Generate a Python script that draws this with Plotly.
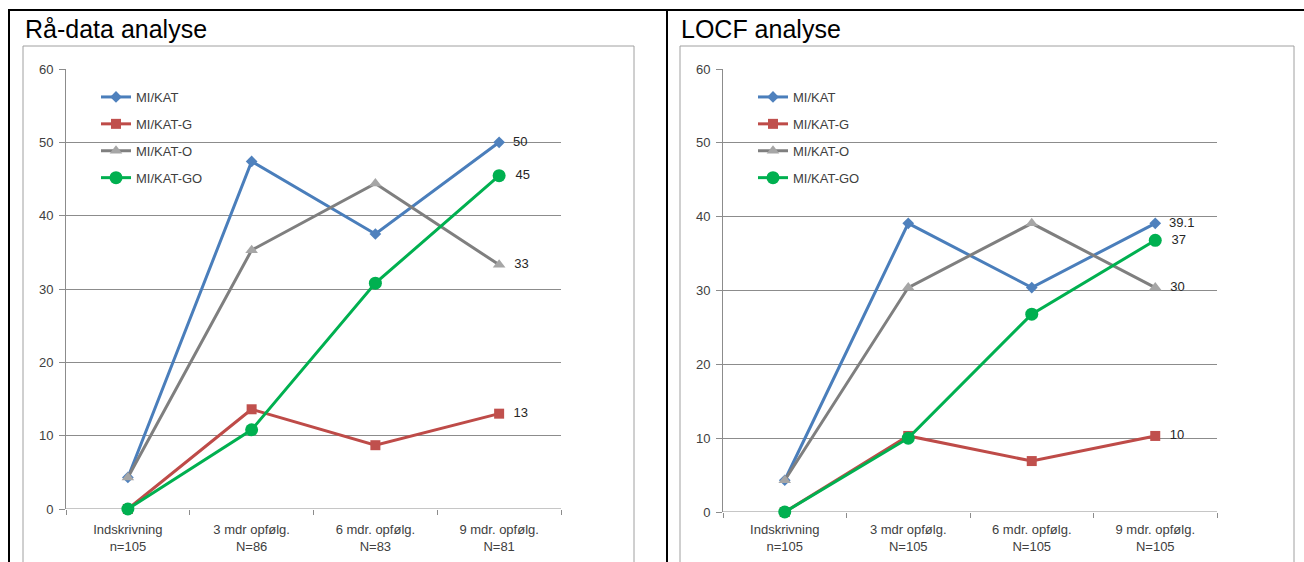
import plotly.graph_objects as go

# ---- data -------------------------------------------------------------
categories = [
    "Indskrivning<br>n=105",
    "3 mdr opfølg.<br>N=86",
    "6 mdr. opfølg.<br>N=83",
    "9 mdr. opfølg.<br>N=81",
]
categories_locf = [
    "Indskrivning<br>n=105",
    "3 mdr opfølg.<br>N=105",
    "6 mdr. opfølg.<br>N=105",
    "9 mdr. opfølg.<br>N=105",
]
series_names = ["MI/KAT", "MI/KAT-G", "MI/KAT-O", "MI/KAT-GO"]

# Rå-data analyse (%)
raw_kat = [4.3, 47.4, 37.5, 50.0]
raw_kat_g = [0.0, 13.6, 8.7, 13.0]
raw_kat_o = [4.3, 35.3, 44.4, 33.3]
raw_kat_go = [0.0, 10.8, 30.8, 45.45]

# LOCF analyse (%)
locf_kat = [4.3, 39.1, 30.4, 39.1]
locf_kat_g = [0.0, 10.3, 6.9, 10.3]
locf_kat_o = [4.3, 30.4, 39.1, 30.4]
locf_kat_go = [0.0, 10.0, 26.8, 36.8]

# decimals shown in the end-point labels
raw_label_decimals = [0, 0, 0, 0]
locf_label_decimals = [1, 0, 0, 0]

# ---- styling ------------------------------------------------------------
W, H = 1304, 562
FONT = "Liberation Sans"
TXT = "#404040"
GRID = "#8C8C8C"

styles = [
    dict(line="#4A7EBB", marker="#4F81BD", symbol="diamond", size=9),
    dict(line="#BE4B48", marker="#C0504D", symbol="square", size=10),
    dict(line="#7F7F7F", marker="#A6A6A6", symbol="triangle-up", size=11),
    dict(line="#00B050", marker="#00B050", symbol="circle", size=13),
]


def px(x):
    return x / W


def py(y):
    return 1 - y / H


fig = go.Figure()


def add_panel(values, decimals, xaxis, yaxis, legend, cats):
    for i, (name, vals) in enumerate(zip(series_names, values)):
        st = styles[i]
        last = f"{vals[-1]:.{decimals[i]}f}"
        fig.add_trace(go.Scatter(
            x=cats, y=vals, name=name,
            mode="lines+markers+text",
            text=["", "", "", "  " + last],
            textposition="middle right",
            textfont=dict(family=FONT, size=13, color="#262626"),
            line=dict(color=st["line"], width=3),
            marker=dict(color=st["marker"], symbol=st["symbol"], size=st["size"],
                        line=dict(width=0)),
            xaxis=xaxis, yaxis=yaxis, legend=legend,
            legendgroup=f"{legend}{i}",
            cliponaxis=False,
        ))


add_panel([raw_kat, raw_kat_g, raw_kat_o, raw_kat_go], raw_label_decimals,
          "x", "y", "legend", categories)
add_panel([locf_kat, locf_kat_g, locf_kat_o, locf_kat_go], locf_label_decimals,
          "x2", "y2", "legend2", categories_locf)

xcommon = dict(
    type="category", range=[-0.5, 3.5], showgrid=False, zeroline=False,
    showline=False, ticks="outside", tickson="boundaries", ticklen=5,
    tickcolor=GRID, tickfont=dict(family=FONT, size=13, color=TXT),
    automargin=False, fixedrange=True,
)
ycommon = dict(
    range=[0, 60], dtick=10, showgrid=True, gridcolor=GRID, gridwidth=1,
    zeroline=False, showline=True, linecolor=GRID, linewidth=1,
    ticks="outside", ticklen=6, tickcolor=GRID, ticklabelstandoff=3,
    tickfont=dict(family=FONT, size=13, color=TXT),
    automargin=False, fixedrange=True,
)

legend_common = dict(
    font=dict(family=FONT, size=13, color=TXT),
    bgcolor="rgba(0,0,0,0)", borderwidth=0,
    xanchor="left", yanchor="top", tracegroupgap=7,
    itemclick=False, itemdoubleclick=False,
)

fig.update_layout(
    width=W, height=H,
    margin=dict(l=0, r=0, t=0, b=0, autoexpand=False),
    paper_bgcolor="white", plot_bgcolor="white",
    showlegend=True,
    xaxis=dict(domain=[px(66), px(561)], anchor="y", ticklabelstandoff=11, **xcommon),
    yaxis=dict(domain=[py(509), py(69)], anchor="x", **ycommon),
    xaxis2=dict(domain=[px(723), px(1217)], anchor="y2", ticklabelstandoff=8, **xcommon),
    yaxis2=dict(domain=[py(512), py(69)], anchor="x2", **ycommon),
    legend=dict(x=px(96), y=py(82), **legend_common),
    legend2=dict(x=px(753), y=py(82), **legend_common),
)

# x axis baselines (drawn over the 0 gridline)
for xa, ya in (("x", "y"), ("x2", "y2")):
    fig.add_shape(type="line", xref=f"{xa} domain", yref=ya,
                  x0=0, x1=1, y0=0, y1=0, line=dict(color=GRID, width=1),
                  layer="below")

# chart frames
for x0, x1 in ((23, 634), (680, 1294)):
    fig.add_shape(type="rect", xref="paper", yref="paper",
                  x0=px(x0), x1=px(x1), y0=py(H + 5), y1=py(46),
                  line=dict(color="#A0A0A0", width=1), layer="below")

# black table rules
for (x0, y0, x1, y1) in ((8, 10, W, 10), (9, 10, 9, H), (667, 10, 667, H)):
    fig.add_shape(type="line", xref="paper", yref="paper",
                  x0=px(x0), x1=px(x1), y0=py(y0), y1=py(y1),
                  line=dict(color="black", width=2))

# panel titles
for x, title in ((23, "Rå-data analyse"), (679, "LOCF analyse")):
    fig.add_annotation(xref="paper", yref="paper", x=px(x), y=py(29),
                       xanchor="left", yanchor="middle", showarrow=False,
                       text=title, font=dict(family=FONT, size=25, color="black"))

fig.write_html("out.html")
